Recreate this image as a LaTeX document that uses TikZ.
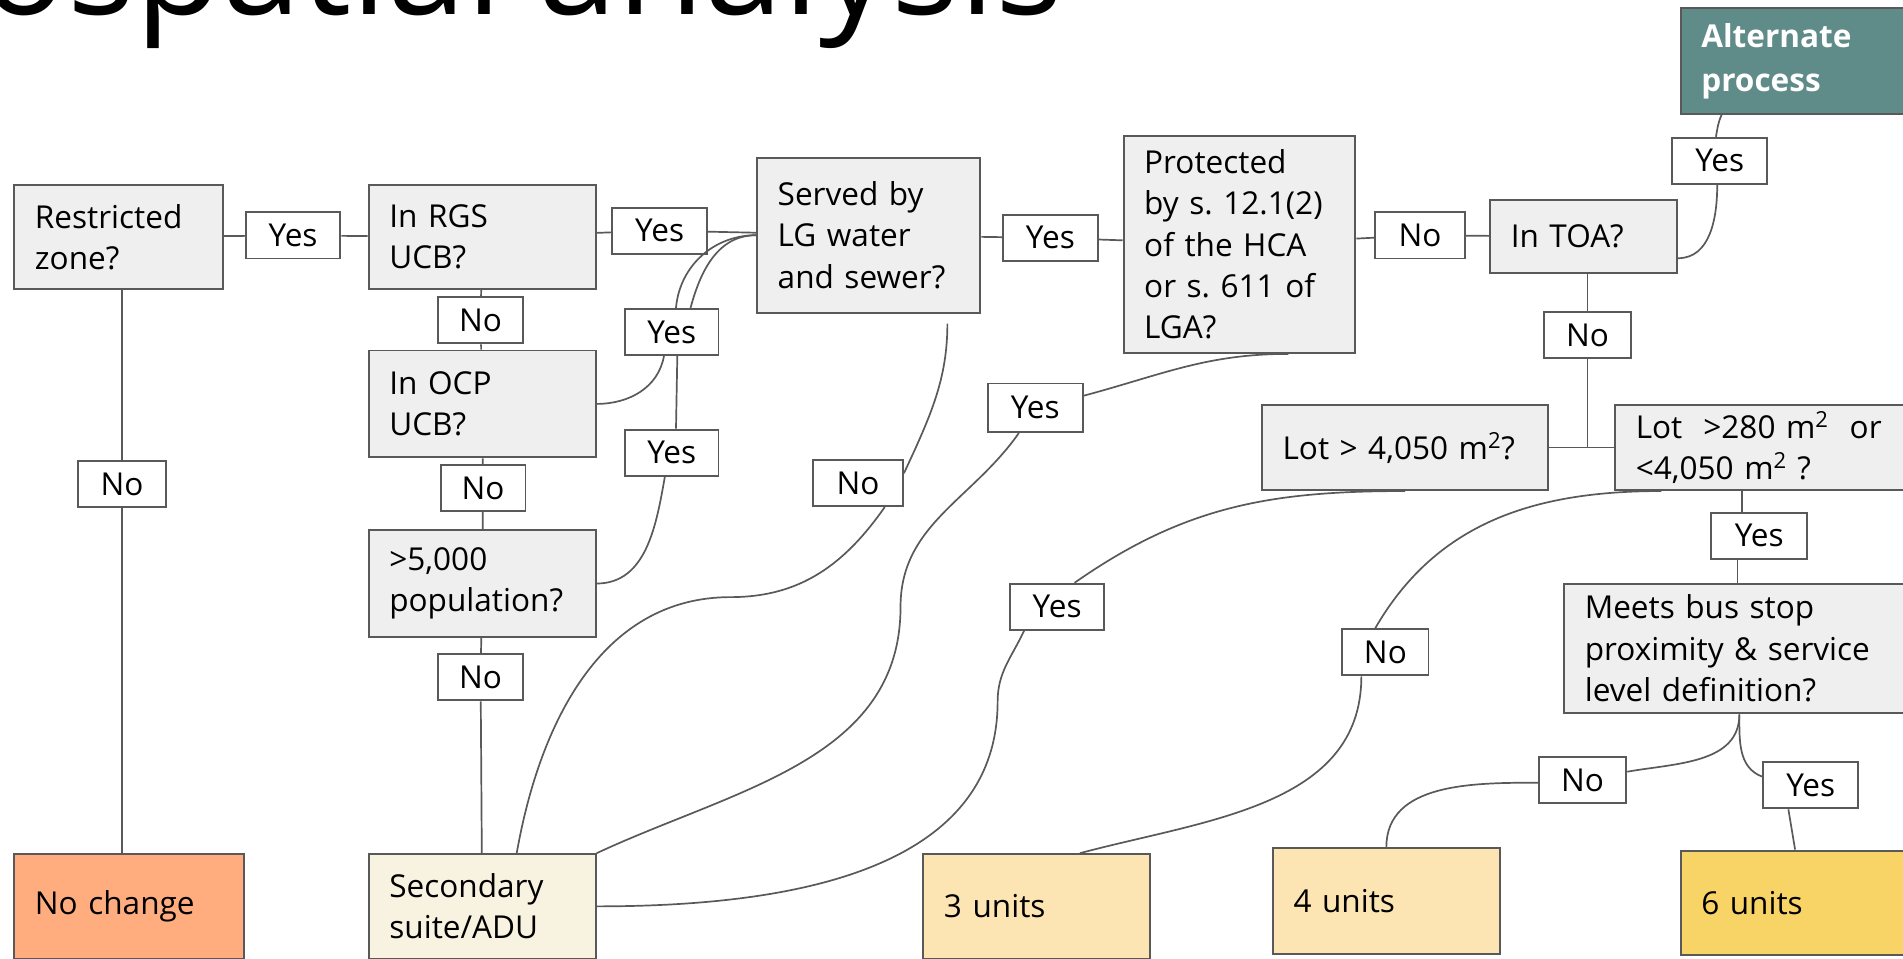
\documentclass[tikz,border=0pt]{standalone}
\usepackage{fontspec}
\setmainfont{Open Sans}
\usetikzlibrary{positioning}
\frenchspacing
\definecolor{linegray}{HTML}{595959}
\definecolor{boxgray}{HTML}{EFEFEF}
\definecolor{altteal}{HTML}{5F8B89}
\definecolor{nochangefill}{HTML}{FFAD7F}
\definecolor{suitefill}{HTML}{F8F3E0}
\definecolor{unitsfill}{HTML}{FCE5B2}
\definecolor{sixfill}{HTML}{F8D466}

\begin{document}
\begin{tikzpicture}[x=1pt, y=-1pt,
  question/.style={draw=linegray, line width=1.6pt, fill=boxgray, anchor=north west, align=left,
    inner xsep=17pt, inner ysep=0pt, font=\fontsize{26}{34}\selectfont},
  outcome/.style={question, fill=#1},
  answer/.style={draw=linegray, line width=1.6pt, fill=white, minimum width=#1, minimum height=38,
    inner sep=0pt, font=\fontsize{26}{30}\selectfont},
  answer/.default=78,
  link/.style={draw=linegray, line width=1.4pt}]
  \useasboundingbox (0,0) rectangle (1568,790);
  \clip (0,0) rectangle (1568,790);

  \node[anchor=base east, inner sep=0pt, font=\fontsize{117}{120}\selectfont] (title) at (876,12) {Geospatial analysis};

  \node[question, text width=138, minimum height=85] (restr) at (11,152) {Restricted\\zone?};
  \node[question, text width=153, minimum height=85] (rgs) at (303,152) {In RGS\\UCB?};
  \node[question, text width=153, minimum height=88] (ocp) at (303,288) {In OCP\\UCB?};
  \node[question, text width=153, minimum height=88] (popn) at (303,436) {>5,000\\population?};
  \node[question, text width=150, minimum height=128] (served) at (623,129) {Served by\\LG water\\and sewer?};
  \node[question, text width=157, minimum height=179] (prot) at (925,111) {Protected\\by s. 12.1(2)\\of the HCA\\or s. 611 of\\LGA?};
  \node[question, text width=120, minimum height=60] (toa) at (1227,164) {In TOA?};
  \node[question, text width=202, minimum height=70] (lotbig) at (1039,333) {Lot > 4,050 m\textsuperscript{2}?};
  \node[question, text width=250, minimum height=70] (lotmid) at (1330,333) {Lot\ \ >280 m\textsuperscript{2}\ \ or\\<4,050 m\textsuperscript{2} ?};
  \node[question, text width=270, minimum height=107] (bus) at (1288,480) {Meets bus stop\\proximity \& service\\level definition?};
  \node[outcome=altteal, text width=170, minimum height=87, text=white, font=\fontsize{26}{36}\selectfont\bfseries] (alt) at (1384,6) {Alternate\\process};

  \node[outcome=nochangefill, text width=155, minimum height=86] (nochange) at (11,703) {No change};
  \node[outcome=suitefill, text width=153, minimum height=86] (secsuite) at (303,703) {Secondary\\suite/ADU};
  \node[outcome=unitsfill, text width=153, minimum height=86] (three) at (760,703) {3 units};
  \node[outcome=unitsfill, text width=153, minimum height=87] (four) at (1048,698) {4 units};
  \node[outcome=sixfill, text width=170, minimum height=86] (six) at (1384,700) {6 units};

  \node[answer] (ly1) at (241.5,194) {Yes};
  \node[answer] (ly2) at (543.5,190) {Yes};
  \node[answer=77] (ly3) at (553.5,273.5) {Yes};
  \node[answer=77] (ly4) at (553.5,373) {Yes};
  \node[answer] (ly5) at (865.5,196) {Yes};
  \node[answer, minimum height=40] (ly6) at (853,336) {Yes};
  \node[answer] (ly7) at (1417,132.5) {Yes};
  \node[answer] (ly8) at (871,500) {Yes};
  \node[answer=79] (ly9) at (1449.5,441.5) {Yes};
  \node[answer] (ly10) at (1492,647) {Yes};
  \node[answer=73] (ln0) at (100.5,399) {No};
  \node[answer=70] (ln1) at (396,264) {No};
  \node[answer=70] (ln2) at (398,402) {No};
  \node[answer=70] (ln3) at (396,558) {No};
  \node[answer=74] (ln4) at (707,398) {No};
  \node[answer=74] (ln5) at (1170,194) {No};
  \node[answer=72] (ln6) at (1308,276) {No};
  \node[answer=71] (ln7) at (1141.5,537.5) {No};
  \node[answer=72] (ln8) at (1304,643) {No};

  \coordinate (bendA) at (602,492);
  \coordinate (bendB) at (742,500);
  \coordinate (bendC) at (822,578);

  \draw[link] (restr) -- (ly1) (ly1) -- (rgs);
  \draw[link] (ln0.north |- restr.south) -- (ln0.north) (ln0.south) -- (ln0.south |- nochange.north);
  \draw[link] (rgs) -- (ln1) (ln1) -- (ocp);
  \draw[link] (ocp) -- (ln2) (ln2) -- (popn);
  \draw[link] (popn) -- (ln3) (ln3) -- (secsuite);
  \draw[link] (rgs) -- (ly2) (ly2) -- (served);
  \draw[link] (ocp.east) to[out=0, in=-100] (ly3.252) (ly3.52) to[out=75, in=180] (served.west);
  \draw[link] (popn.east) to[out=0, in=-100] (ly4.254) (ly4.80) -- (ly3.283) (ly3.80) to[out=85, in=180] (served.west);
  \draw[link] (served) -- (ly5) (ly5) -- (prot);
  \draw[link, shorten <=8pt] (served.315) to[out=-90, in=65] (ln4.12);
  \draw[link] (ln4.318) to[out=-125, in=0] (bendA) to[out=180, in=80] (secsuite.57);
  \draw[link] (prot.294) to[out=180, in=15] (ly6.14);
  \draw[link] (ly6.237) to[out=-125, in=90] (bendB) to[out=-90, in=25] (secsuite.north east);
  \draw[link] (prot) -- (ln5) (ln5) -- (toa);
  \draw[link] (toa.347) to[out=0, in=-90] (ly7.264) (ly7.99) to[out=80, in=-115] (alt.213);
  \draw[link] (ln6.north |- toa.south) -- (ln6.north) (ln6.south) -- (ln6.south |- lotmid.west);
  \draw[link] (lotbig) -- (lotmid);
  \draw[link] (lotbig.south) to[out=180, in=35] (ly8.54);
  \draw[link] (ly8.216) to[out=-115, in=90] (bendC) to[out=-90, in=0] (secsuite.east);
  \draw[link] (lotmid.199) to[out=180, in=60] (ln7.113) (ln7.225) to[out=-90, in=15] (three.51);
  \draw[link] (ly9.126 |- lotmid.south) -- (ly9.126) (ly9.228) -- (ly9.228 |- bus.north);
  \draw[link] (bus.262) to[out=-90, in=10] (ln8.11) (ln8.183) to[out=180, in=90] (four.north);
  \draw[link] (bus.262) to[out=-90, in=160] (ly10.170) (ly10.227) -- (six.100);
\end{tikzpicture}
\end{document}
